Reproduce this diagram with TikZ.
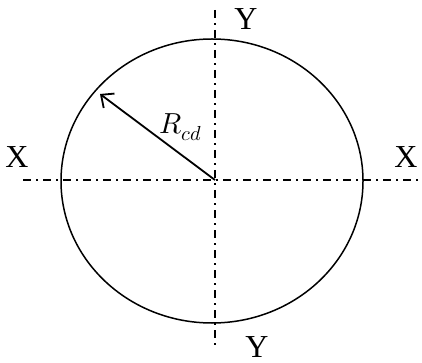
\documentclass[tikz,border=0pt]{standalone}
\usepackage{amsmath}
\usepackage{fontspec}
\usepackage{unicode-math}
\setmainfont{Liberation Serif}
\setmathfont{Latin Modern Math}
\usetikzlibrary{arrows.meta, positioning}

\begin{document}
\begin{tikzpicture}[x=1pt, y=-1pt]

\tikzset{axis/.style = {line width=1.3pt, dash pattern=on 8pt off 5pt on 2pt off 5pt}}
\tikzset{lbl/.style = {inner sep=0pt, font=\fontsize{32}{36}\selectfont}}
\useasboundingbox (0,0) rectangle (422,363);
% points
\coordinate (o) at (215,180);
\coordinate (rim) at (100,94);
\coordinate (xl) at (23,180);
\coordinate (xr) at (422,180);
\coordinate (yt) at (215,10);
\coordinate (yb) at (215,347);
% labels
\node[lbl] (xleft) at (17,157) {X};
\node[lbl] (xright) at (406,157) {X};
\node[lbl] (ytop) at (246,19) {Y};
\node[lbl] (ybot) at (257,347) {Y};
\node[lbl, font=\fontsize{29}{33}\selectfont] (rcd) at (181,127) {$R_{cd}$};
%lines
\draw[line width=1.5pt] (212,181) ellipse [x radius=151, y radius=142];
\draw[axis] (xl) -- (xr);
\draw[axis] (yt) -- (yb);
\draw[line width=1.8pt, -{Straight Barb[length=10pt,width=18pt]}] (o) -- (rim);
\end{tikzpicture}
\end{document}
